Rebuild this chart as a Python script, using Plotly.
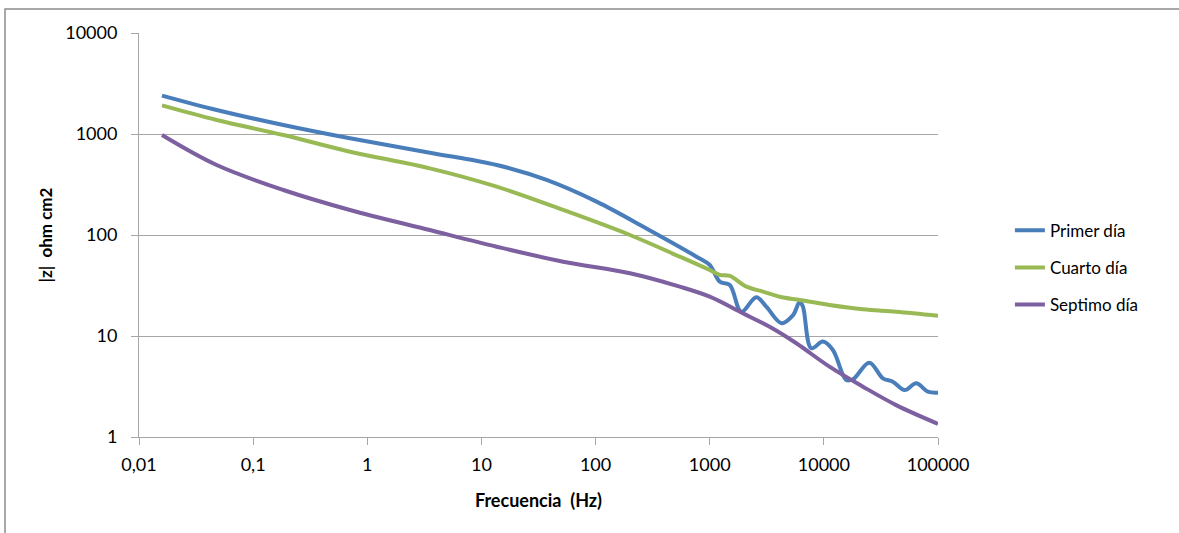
import plotly.graph_objects as go

# Impedance modulus |z| (ohm cm2) vs frequency (Hz)
freq_primer = [0.0159, 0.0479, 0.184, 0.705, 3.53, 13.6, 37.2, 102, 279, 766,
               1000, 1225, 1500, 1890, 2560, 3130, 4250, 5370, 6150, 6560,
               7770, 9800, 12000, 15700, 18000, 25000, 32900, 40200, 51000,
               64500, 81500, 100000]
z_primer = [2400, 1730, 1227, 906, 653, 493, 351, 214, 116, 61,
            50.5, 34.5, 32, 17.4, 24.2, 19.5, 13.4, 16.1, 21.8, 19.5,
            7.56, 8.8, 7.27, 3.67, 3.73, 5.44, 3.81, 3.53, 2.92,
            3.4, 2.81, 2.75]

freq_cuarto = [0.0159, 0.0479, 0.184, 0.705, 3.53, 13.6, 52, 200, 546, 1000,
               1225, 1500, 2100, 2930, 4100, 6150, 11200, 22000, 43000, 100000]
z_cuarto = [1920, 1376, 977, 668, 457, 301, 177, 100, 61, 45,
            40.2, 39.3, 30.8, 27.5, 24.5, 22.7, 20.3, 18.4, 17.4, 15.9]

freq_septimo = [0.0159, 0.0479, 0.184, 0.705, 3.53, 13.6, 52, 200, 546, 1000,
                1950, 3500, 5740, 11200, 22000, 43000, 100000]
z_septimo = [977, 493, 279, 177, 112, 76.6, 54.4, 41.8, 30.8, 24.5,
             16.8, 12.0, 8.47, 4.97, 3.15, 2.07, 1.35]

x_tickvals = [0.01, 0.1, 1, 10, 100, 1000, 10000, 100000]
x_ticktext = ["0,01", "0,1", "1", "10", "100", "1000", "10000", "100000"]
y_tickvals = [1, 10, 100, 1000, 10000]
y_ticktext = ["1", "10", "100", "1000", "10000"]

FONT = "Lato"
GRID = "#a6a6a6"

series = [
    ("Primer día", freq_primer, z_primer, "#4a7ebb"),
    ("Cuarto día", freq_cuarto, z_cuarto, "#98b954"),
    ("Septimo día", freq_septimo, z_septimo, "#7d60a0"),
]

fig = go.Figure()
for name, fx, fy, color in series:
    fig.add_trace(go.Scatter(
        x=fx, y=fy, name=name, mode="lines", legendgroup=name,
        line=dict(color=color, width=4, shape="spline", smoothing=1.0),
    ))

fig.update_layout(
    width=1179, height=533,
    margin=dict(l=139, r=241, t=33, b=96),
    paper_bgcolor="white", plot_bgcolor="white",
    font=dict(family=FONT, size=17, color="#000000"),
    showlegend=True,
    legend=dict(
        x=1.09, xanchor="left", y=0.555, yanchor="top",
        font=dict(family=FONT, size=17, color="#000000"),
        traceorder="grouped", tracegroupgap=12,
        bgcolor="rgba(0,0,0,0)",
    ),
    xaxis=dict(
        type="log", range=[-2, 5],
        tickvals=x_tickvals, ticktext=x_ticktext,
        ticks="outside", ticklen=7, tickcolor=GRID, tickwidth=1,
        ticklabelstandoff=4,
        showline=True, linecolor=GRID, linewidth=1,
        showgrid=False, zeroline=False,
        tickfont=dict(family=FONT, size=18, color="#000000"),
        title=dict(text="<b>Frecuencia  (Hz)</b>", standoff=20,
                   font=dict(family=FONT, size=18, color="#000000")),
    ),
    yaxis=dict(
        type="log", range=[0, 4],
        tickvals=y_tickvals, ticktext=y_ticktext,
        ticks="outside", ticklen=7, tickcolor=GRID, tickwidth=1,
        ticklabelstandoff=10,
        showline=True, linecolor=GRID, linewidth=1,
        showgrid=True, gridcolor=GRID, gridwidth=1,
        zeroline=False,
        tickfont=dict(family=FONT, size=18, color="#000000"),
        title=dict(text="<b>|z|  ohm cm2</b>", standoff=8,
                   font=dict(family=FONT, size=17, color="#000000")),
    ),
    shapes=[dict(
        type="rect", xref="paper", yref="paper",
        x0=-0.1677, x1=1.6, y0=-0.5, y1=1.0594,
        line=dict(color="#8c8c8c", width=1.5), fillcolor="rgba(0,0,0,0)",
        layer="below",
    )],
)

fig.write_html("out.html")
